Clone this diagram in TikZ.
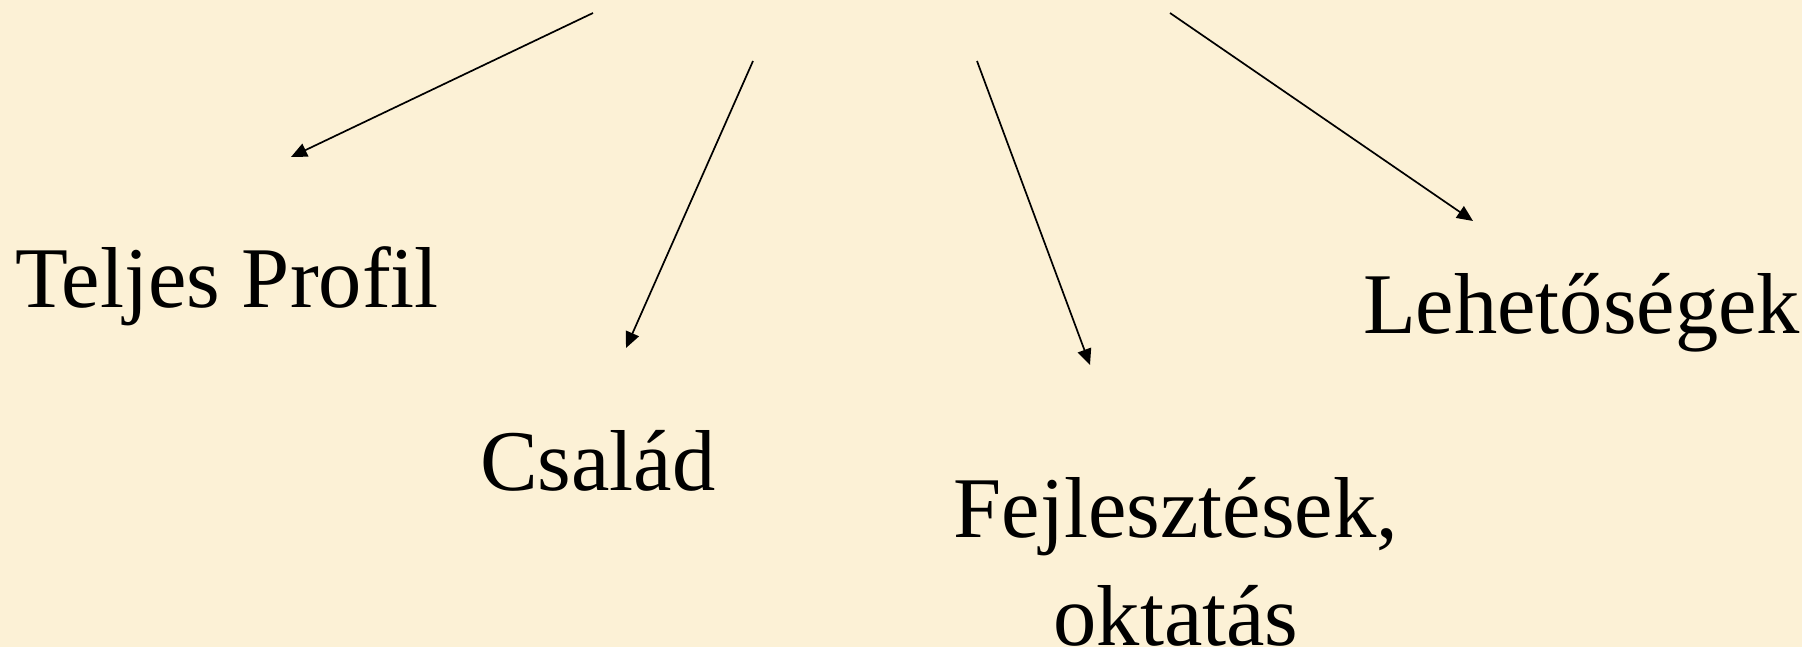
\documentclass[tikz,border=0pt]{standalone}
\usepackage{fontspec}
\setmainfont{Liberation Serif}
\usetikzlibrary{arrows.meta}
\definecolor{parch}{RGB}{252,241,214}
\tikzset{
  lbl/.style={inner sep=0pt, outer sep=0pt, font=\fontsize{86.5}{108}\selectfont, anchor=base west},
  arr/.style={line width=1.7pt, -{Triangle[length=16pt,width=14pt]}}
}
\begin{document}
\begin{tikzpicture}[x=1pt,y=-1pt]
\fill[parch] (0,0) rectangle (1802,647);
\useasboundingbox (0,0) rectangle (1802,647);
\node[lbl] (teljes) at (15,307) {Teljes Profil};
\node[lbl] (csalad) at (480,490) {Család};
\node[lbl] (lehet) at (1363,333) {Lehetőségek};
\node[lbl, anchor=base, align=center] (fejl) at (1176,645) {Fejlesztések,\\oktatás};
\coordinate (s1) at (593,13);
\coordinate (t1) at (291,157);
\coordinate (s2) at (753,61);
\coordinate (t2) at (626,348);
\coordinate (s3) at (977,61);
\coordinate (t3) at (1090,365);
\coordinate (s4) at (1170,13);
\coordinate (t4) at (1473,221);
\draw[arr] (s1) -- (t1);
\draw[arr] (s2) -- (t2);
\draw[arr] (s3) -- (t3);
\draw[arr] (s4) -- (t4);
\end{tikzpicture}
\end{document}
